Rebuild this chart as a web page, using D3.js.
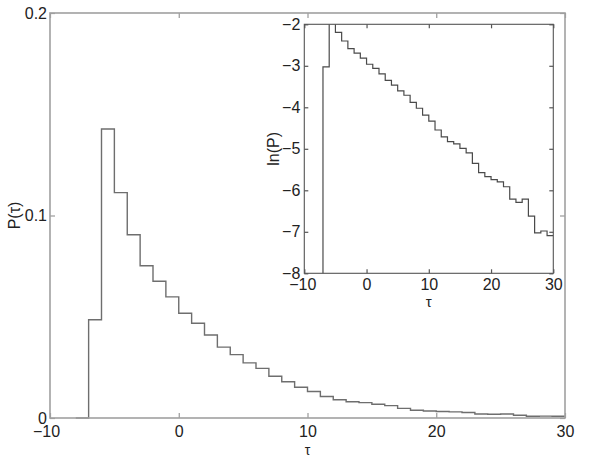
<!DOCTYPE html>
<html>
<head>
<meta charset="utf-8">
<script src="https://cdn.jsdelivr.net/npm/d3@7"></script>
<style>
  html, body { margin: 0; padding: 0; background: #fff; }
  text { font-family: "Liberation Sans", Arial, Helvetica, sans-serif; fill: #222; }
</style>
</head>
<body>
<svg id="chart" width="599" height="460"></svg>
<script>
// Histogram bins: left edge of each unit-wide bin (tau) and probability P(tau)
const binStart = [-8, -7, -6, -5, -4, -3, -2, -1, 0, 1, 2, 3, 4, 5, 6, 7, 8, 9, 10, 11,
                  12, 13, 14, 15, 16, 17, 18, 19, 20, 21, 22, 23, 24, 25, 26, 27, 28, 29];
const prob = [0, 0.0485, 0.1427, 0.1113, 0.0905, 0.0752, 0.0675, 0.0598, 0.0517, 0.0468,
              0.0410, 0.0350, 0.0313, 0.0272, 0.0245, 0.0206, 0.0179, 0.0152, 0.0131, 0.0106,
              0.0090, 0.0080, 0.0076, 0.0068, 0.0061, 0.00475, 0.0038, 0.00345, 0.0032, 0.00303,
              0.0027, 0.0020, 0.00185, 0.0020, 0.00133, 0.00089, 0.00093, 0.00083];
const binEnd = 30;

const xTicks = [-10, 0, 10, 20, 30];
const yTicksMain = [0, 0.1, 0.2];
const yTicksInset = [-2, -3, -4, -5, -6, -7, -8];

const svg = d3.select("#chart");

const pts = binStart.map((t, i) => ({t: t, p: prob[i]}));
pts.push({t: binEnd, p: prob[prob.length - 1]});

const fmt = d => (d < 0 ? "\u2212" + Math.abs(d) : String(d));

// ---------- main axes ----------
const M = {left: 50, top: 13, right: 565, bottom: 418};
const x = d3.scaleLinear().domain([-10, 30]).range([M.left, M.right]);
const y = d3.scaleLinear().domain([0, 0.2]).range([M.bottom, M.top]);

const main = svg.append("g");
main.append("rect").attr("x", M.left).attr("y", M.top)
  .attr("width", M.right - M.left).attr("height", M.bottom - M.top)
  .attr("fill", "#fff");

main.append("path").datum(pts)
  .attr("fill", "none").attr("stroke", "#6e6e6e").attr("stroke-width", 1.4)
  .attr("d", d3.line().x(d => x(d.t)).y(d => y(d.p)).curve(d3.curveStepAfter));

function styleAxis(g, col, fs) {
  g.select(".domain").remove();
  g.selectAll(".tick line").attr("stroke", col).attr("stroke-width", 1.2);
  g.selectAll(".tick text").attr("font-size", fs).style("fill", "#222");
}

main.append("g").attr("transform", `translate(0,${M.bottom})`)
  .call(d3.axisBottom(x).tickValues(xTicks).tickSizeInner(-5).tickSizeOuter(0).tickPadding(8).tickFormat(fmt))
  .call(g => styleAxis(g, "#999", 16))
  .call(g => g.selectAll(".tick text").filter(d => d < 0).attr("dx", -4));
main.append("g").attr("transform", `translate(0,${M.top})`)
  .call(d3.axisTop(x).tickValues(xTicks).tickSizeInner(-5).tickSizeOuter(0).tickFormat(""))
  .call(g => styleAxis(g, "#999", 16));
main.append("g").attr("transform", `translate(${M.left},0)`)
  .call(d3.axisLeft(y).tickValues(yTicksMain).tickSizeInner(-5).tickSizeOuter(0).tickPadding(3).tickFormat(d => String(d)))
  .call(g => styleAxis(g, "#999", 16));
main.append("g").attr("transform", `translate(${M.right},0)`)
  .call(d3.axisRight(y).tickValues(yTicksMain).tickSizeInner(-5).tickSizeOuter(0).tickFormat(""))
  .call(g => styleAxis(g, "#999", 16));

main.append("rect").attr("x", M.left).attr("y", M.top)
  .attr("width", M.right - M.left).attr("height", M.bottom - M.top)
  .attr("fill", "none").attr("stroke", "#a0a0a0").attr("stroke-width", 1.6);

main.append("text").attr("x", (M.left + M.right) / 2).attr("y", 455)
  .attr("text-anchor", "middle").attr("font-size", 14).text("τ");
main.append("text").attr("transform", `translate(20,${(M.top + M.bottom) / 2}) rotate(-90)`)
  .attr("text-anchor", "middle").attr("font-size", 16).text("P(τ)");

// ---------- inset ----------
const I = {left: 304.3, top: 24.3, right: 553.3, bottom: 273.3};
const xi = d3.scaleLinear().domain([-10, 30]).range([I.left, I.right]);
const yi = d3.scaleLinear().domain([-8, -2]).range([I.bottom, I.top]);

const inset = svg.append("g");
inset.append("rect").attr("x", I.left).attr("y", I.top)
  .attr("width", I.right - I.left).attr("height", I.bottom - I.top)
  .attr("fill", "#fff");

svg.append("defs").append("clipPath").attr("id", "insetClip")
  .append("rect").attr("x", I.left).attr("y", I.top)
  .attr("width", I.right - I.left).attr("height", I.bottom - I.top);

inset.append("path").datum(pts)
  .attr("clip-path", "url(#insetClip)")
  .attr("fill", "none").attr("stroke", "#4a4a4a").attr("stroke-width", 1.2)
  .attr("d", d3.line().x(d => xi(d.t)).y(d => yi(d.p > 0 ? Math.log(d.p) : -40)).curve(d3.curveStepAfter));

inset.append("g").attr("transform", `translate(0,${I.bottom})`)
  .call(d3.axisBottom(xi).tickValues(xTicks).tickSizeInner(-4).tickSizeOuter(0).tickPadding(5).tickFormat(fmt))
  .call(g => styleAxis(g, "#555", 16))
  .call(g => g.selectAll(".tick text").filter(d => d < 0).attr("dx", -2));
inset.append("g").attr("transform", `translate(0,${I.top})`)
  .call(d3.axisTop(xi).tickValues(xTicks).tickSizeInner(-4).tickSizeOuter(0).tickFormat(""))
  .call(g => styleAxis(g, "#555", 16));
inset.append("g").attr("transform", `translate(${I.left},0)`)
  .call(d3.axisLeft(yi).tickValues(yTicksInset).tickSizeInner(-4).tickSizeOuter(0).tickPadding(4).tickFormat(fmt))
  .call(g => styleAxis(g, "#555", 16));
inset.append("g").attr("transform", `translate(${I.right},0)`)
  .call(d3.axisRight(yi).tickValues(yTicksInset).tickSizeInner(-4).tickSizeOuter(0).tickFormat(""))
  .call(g => styleAxis(g, "#555", 16));

inset.append("rect").attr("x", I.left).attr("y", I.top)
  .attr("width", I.right - I.left).attr("height", I.bottom - I.top)
  .attr("fill", "none").attr("stroke", "#555").attr("stroke-width", 1.1);

inset.append("text").attr("x", (I.left + I.right) / 2).attr("y", 307)
  .attr("text-anchor", "middle").attr("font-size", 15).text("τ");
inset.append("text").attr("transform", `translate(279,${(I.top + I.bottom) / 2}) rotate(-90)`)
  .attr("text-anchor", "middle").attr("font-size", 16).text("ln(P)");
</script>
</body>
</html>
